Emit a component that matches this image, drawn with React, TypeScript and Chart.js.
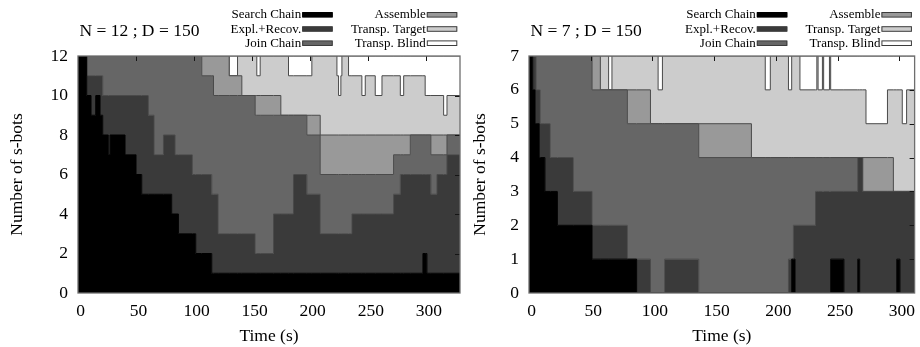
import { useEffect, useRef } from "react";
import { Chart, registerables } from "chart.js";

Chart.register(...registerables);

// ---------- data ----------
const seriesNames = ["Search Chain", "Expl.+Recov.", "Join Chain", "Assemble", "Transp. Target", "Transp. Blind"];
const seriesColors = ["#000000", "#3a3a3a", "#666666", "#999999", "#cccccc", "#ffffff"];
const xTickValues = [0, 50, 100, 150, 200, 250, 300];
const leftYTickValues = [0, 2, 4, 6, 8, 10, 12];
const rightYTickValues = [0, 1, 2, 3, 4, 5, 6, 7];

// Left panel: N = 12 ; D = 150  (time of each change, counts holding from that time)
const leftTitle = "N = 12 ; D = 150";
const leftN = 12;
const leftEnd = 329;
const leftTimes = [0, 7.5, 11.2, 15.2, 19, 21.3, 26.1, 27.6, 40.5, 50, 54.9, 60.6, 65.5, 73.6, 80.7, 83.6, 86.5, 98.5, 101.4, 106.6, 115.2, 116.7, 120.7, 130.2, 137.4, 141.1, 152.6, 154, 156.9, 168.4, 174.7, 181.3, 185.6, 197.1, 201.4, 208.6, 223, 224.4, 226.4, 227.3, 233, 235.9, 244.5, 247.4, 256, 261.8, 271.8, 277.6, 280.5, 286.2, 297, 299, 300.5, 303.9, 309.2, 314.9, 317.8];
const leftSearch = [12, 10, 9, 10, 9, 8, 7, 8, 7, 6, 5, 5, 5, 5, 4, 4, 3, 3, 2, 2, 1, 1, 1, 1, 1, 1, 1, 1, 1, 1, 1, 1, 1, 1, 1, 1, 1, 1, 1, 1, 1, 1, 1, 1, 1, 1, 1, 1, 1, 1, 2, 2, 1, 1, 1, 1, 1];
const leftExpl = [0, 1, 2, 1, 2, 2, 3, 2, 3, 4, 5, 4, 2, 3, 4, 3, 4, 3, 4, 4, 4, 4, 2, 2, 2, 2, 1, 1, 1, 3, 3, 3, 5, 4, 4, 2, 2, 2, 2, 2, 2, 3, 3, 3, 3, 3, 4, 5, 5, 5, 4, 4, 5, 4, 5, 5, 6];
const leftJoin = [0, 1, 1, 1, 1, 2, 2, 2, 2, 2, 2, 3, 5, 4, 4, 5, 5, 6, 6, 5, 6, 5, 7, 7, 7, 7, 7, 7, 7, 5, 5, 5, 3, 3, 3, 3, 3, 3, 3, 3, 3, 2, 2, 2, 2, 2, 2, 1, 1, 2, 2, 2, 2, 2, 1, 1, 1];
const leftAssemble = [0, 0, 0, 0, 0, 0, 0, 0, 0, 0, 0, 0, 0, 0, 0, 0, 0, 0, 0, 1, 1, 2, 2, 1, 1, 0, 1, 1, 1, 1, 0, 0, 0, 1, 1, 2, 2, 2, 2, 2, 2, 2, 2, 2, 2, 2, 1, 1, 1, 0, 0, 0, 0, 1, 1, 1, 0];
const leftTarget = [0, 0, 0, 0, 0, 0, 0, 0, 0, 0, 0, 0, 0, 0, 0, 0, 0, 0, 0, 0, 0, 0, 0, 0, 1, 2, 2, 1, 2, 2, 3, 2, 2, 2, 3, 4, 3, 2, 3, 4, 3, 3, 2, 3, 2, 3, 3, 2, 3, 3, 3, 2, 2, 2, 2, 1, 2];
const leftBlind = [0, 0, 0, 0, 0, 0, 0, 0, 0, 0, 0, 0, 0, 0, 0, 0, 0, 0, 0, 0, 0, 0, 0, 1, 0, 0, 0, 1, 0, 0, 0, 1, 1, 1, 0, 0, 1, 2, 1, 0, 1, 1, 2, 1, 2, 1, 1, 2, 1, 1, 1, 2, 2, 2, 2, 3, 2];

// Right panel: N = 7 ; D = 150
const rightTitle = "N = 7 ; D = 150";
const rightN = 7;
const rightEnd = 312.4;
const rightTimes = [0, 3, 4.9, 5.7, 8.3, 9.1, 12.9, 17.2, 23, 35.9, 51.1, 57.8, 64.5, 67.2, 79.7, 87.2, 98.4, 104.6, 108.1, 109.9, 137.5, 180.2, 191.4, 195.5, 210.2, 212.8, 214.2, 215.5, 219.5, 232.1, 233.2, 234.2, 237.7, 238.7, 243.4, 244.4, 255.1, 266.3, 267.9, 270.3, 273, 290.4, 295.2, 297.9, 300.5, 302.4, 305.9];
const rightSearch = [7, 6, 5, 5, 4, 4, 3, 3, 2, 2, 1, 1, 1, 1, 1, 0, 0, 0, 0, 0, 0, 0, 0, 0, 0, 1, 1, 0, 0, 0, 0, 0, 0, 0, 0, 1, 0, 1, 0, 0, 0, 0, 0, 1, 0, 0, 0];
const rightExpl = [0, 1, 2, 1, 2, 1, 2, 1, 2, 1, 1, 1, 1, 1, 0, 1, 0, 0, 0, 1, 0, 0, 0, 0, 1, 0, 1, 2, 2, 3, 3, 3, 3, 3, 3, 2, 3, 3, 4, 3, 3, 3, 3, 2, 3, 3, 3];
const rightJoin = [0, 0, 0, 1, 1, 2, 2, 3, 3, 4, 4, 4, 4, 4, 4, 4, 5, 5, 5, 4, 4, 4, 4, 4, 3, 3, 2, 2, 2, 1, 1, 1, 1, 1, 1, 1, 1, 0, 0, 0, 0, 0, 0, 0, 0, 0, 0];
const rightAssemble = [0, 0, 0, 0, 0, 0, 0, 0, 0, 0, 1, 0, 0, 0, 1, 1, 0, 0, 0, 0, 1, 0, 0, 0, 0, 0, 0, 0, 0, 0, 0, 0, 0, 0, 0, 0, 0, 0, 0, 1, 1, 1, 0, 0, 0, 0, 0];
const rightTarget = [0, 0, 0, 0, 0, 0, 0, 0, 0, 0, 0, 1, 0, 1, 1, 1, 2, 1, 2, 2, 2, 3, 2, 3, 2, 3, 3, 3, 2, 2, 3, 2, 3, 2, 3, 2, 2, 2, 2, 2, 1, 2, 3, 3, 3, 2, 3];
const rightBlind = [0, 0, 0, 0, 0, 0, 0, 0, 0, 0, 0, 0, 1, 0, 0, 0, 0, 1, 0, 0, 0, 0, 1, 0, 1, 0, 0, 0, 1, 1, 0, 1, 0, 1, 0, 1, 1, 1, 1, 1, 2, 1, 1, 1, 1, 2, 1];

const FONT = "'Liberation Serif', 'Times New Roman', serif";

// ---------- plugins ----------
const framePlugin = {
  id: "frame",
  afterDatasetsDraw(chart: any) {
    const { ctx, chartArea: a, scales } = chart;
    ctx.save();
    ctx.strokeStyle = "#151515";
    ctx.lineWidth = 1;
    ctx.beginPath();
    scales.x.ticks.forEach((t: any) => {
      const px = Math.round(scales.x.getPixelForValue(t.value)) + 0.5;
      if (px > a.left + 2 && px < a.right - 2) {
        ctx.moveTo(px, a.top);
        ctx.lineTo(px, a.top + 5);
      }
    });
    scales.y.ticks.forEach((t: any) => {
      const py = Math.round(scales.y.getPixelForValue(t.value)) + 0.5;
      if (py > a.top + 2 && py < a.bottom - 2) {
        ctx.moveTo(a.right, py);
        ctx.lineTo(a.right - 5, py);
      }
    });
    ctx.stroke();
    ctx.strokeStyle = "#6e6e6e";
    ctx.lineWidth = 1.3;
    ctx.strokeRect(a.left, a.top, a.right - a.left, a.bottom - a.top);
    ctx.restore();
  },
};

const headerPlugin = {
  id: "header",
  afterDraw(chart: any, _args: any, opts: any) {
    const { ctx, chartArea: a } = chart;
    ctx.save();
    ctx.fillStyle = "#000";
    ctx.textAlign = "left";
    ctx.textBaseline = "alphabetic";
    ctx.font = `17.5px ${FONT}`;
    ctx.fillText(opts.text, a.left + 1.5, 35.7);
    ctx.font = `13px ${FONT}`;
    ctx.textAlign = "right";
    chart.data.datasets.forEach((ds: any, i: number) => {
      const col = Math.floor(i / 3);
      const row = i % 3;
      const swRight = a.right - (col === 0 ? 127.3 : 2.7);
      const swW = 30.5;
      const swLeft = swRight - swW;
      const base = 18.3 + row * 14.2;
      ctx.fillStyle = "#000";
      ctx.fillText(ds.label, swLeft - 1, base);
      ctx.fillStyle = ds.backgroundColor;
      ctx.fillRect(swLeft, base - 5.8, swW, 4.6);
      ctx.strokeStyle = i === 0 ? "#000" : "#3c3c3c";
      ctx.lineWidth = 1;
      ctx.strokeRect(swLeft + 0.5, base - 5.8, swW - 1, 4.6);
    });
    ctx.restore();
  },
};

function buildDatasets(times: number[], series: number[][], end: number) {
  return seriesNames.map((name, k) => ({
    label: name,
    data: [
      ...times.map((t, i) => ({ x: t, y: series[k][i] })),
      { x: end, y: series[k][times.length - 1] },
    ],
    backgroundColor: seriesColors[k],
    borderColor: k === 0 ? "#000000" : "#4a4a4a",
    borderWidth: 1,
    fill: k === 0 ? "origin" : "-1",
    stepped: true,
    pointRadius: 0,
    tension: 0,
  }));
}

type PanelCfg = {
  title: string;
  n: number;
  end: number;
  times: number[];
  series: number[][];
  yTicks: number[];
  yAxisWidth: number;
  rightPad: number;
  yTitlePad: number;
};

function makeConfig(p: PanelCfg): any {
  const tickFont = { family: FONT, size: 17.5 };
  return {
    type: "line",
    data: { datasets: buildDatasets(p.times, p.series, p.end) },
    options: {
      animation: false,
      responsive: false,
      maintainAspectRatio: false,
      devicePixelRatio: 1,
      events: [],
      layout: { padding: { top: 56, right: p.rightPad, bottom: 0, left: 0 } },
      plugins: {
        legend: { display: false },
        tooltip: { enabled: false },
        title: { display: false },
        header: { text: p.title },
      },
      scales: {
        x: {
          type: "linear",
          min: 0,
          max: p.end,
          grid: { display: false, drawTicks: false },
          border: { display: false },
          ticks: { padding: 7.5, labelOffset: 2.5, font: tickFont, color: "#000", autoSkip: false, maxRotation: 0 },
          afterBuildTicks: (s: any) => {
            s.ticks = xTickValues.map((v) => ({ value: v }));
          },
          afterFit: (s: any) => {
            s.height = 54;
          },
          title: { display: true, text: "Time (s)", font: tickFont, color: "#000", padding: { top: 0, bottom: 0.5 } },
        },
        y: {
          type: "linear",
          stacked: true,
          min: 0,
          max: p.n,
          grid: { display: false, drawTicks: false },
          border: { display: false },
          ticks: { padding: 10, font: tickFont, color: "#000", autoSkip: false },
          afterBuildTicks: (s: any) => {
            s.ticks = p.yTicks.map((v) => ({ value: v }));
          },
          afterFit: (s: any) => {
            s.width = p.yAxisWidth;
          },
          title: { display: true, text: "Number of s-bots", font: tickFont, color: "#000", padding: { top: p.yTitlePad, bottom: 0 } },
        },
      },
    },
    plugins: [framePlugin, headerPlugin],
  };
}

function Panel({ cfg, left, width }: { cfg: PanelCfg; left: number; width: number }) {
  const ref = useRef<HTMLCanvasElement | null>(null);
  useEffect(() => {
    if (!ref.current) return;
    const chart = new Chart(ref.current, makeConfig(cfg));
    return () => chart.destroy();
  }, [cfg]);
  return (
    <canvas
      ref={ref}
      width={width}
      height={347}
      style={{ position: "absolute", left, top: 0, width, height: 347 }}
    />
  );
}

const leftCfg: PanelCfg = {
  title: leftTitle,
  n: leftN,
  end: leftEnd,
  times: leftTimes,
  series: [leftSearch, leftExpl, leftJoin, leftAssemble, leftTarget, leftBlind],
  yTicks: leftYTickValues,
  yAxisWidth: 78,
  rightPad: 2,
  yTitlePad: 6.5,
};

const rightCfg: PanelCfg = {
  title: rightTitle,
  n: rightN,
  end: rightEnd,
  times: rightTimes,
  series: [rightSearch, rightExpl, rightJoin, rightAssemble, rightTarget, rightBlind],
  yTicks: rightYTickValues,
  yAxisWidth: 69,
  rightPad: 1.5,
  yTitlePad: 9.5,
};

export default function App() {
  return (
    <div style={{ position: "absolute", left: 0, top: 0, width: 920, height: 347, background: "#fff", overflow: "hidden" }}>
      <Panel cfg={leftCfg} left={0} width={462} />
      <Panel cfg={rightCfg} left={460} width={460} />
    </div>
  );
}
